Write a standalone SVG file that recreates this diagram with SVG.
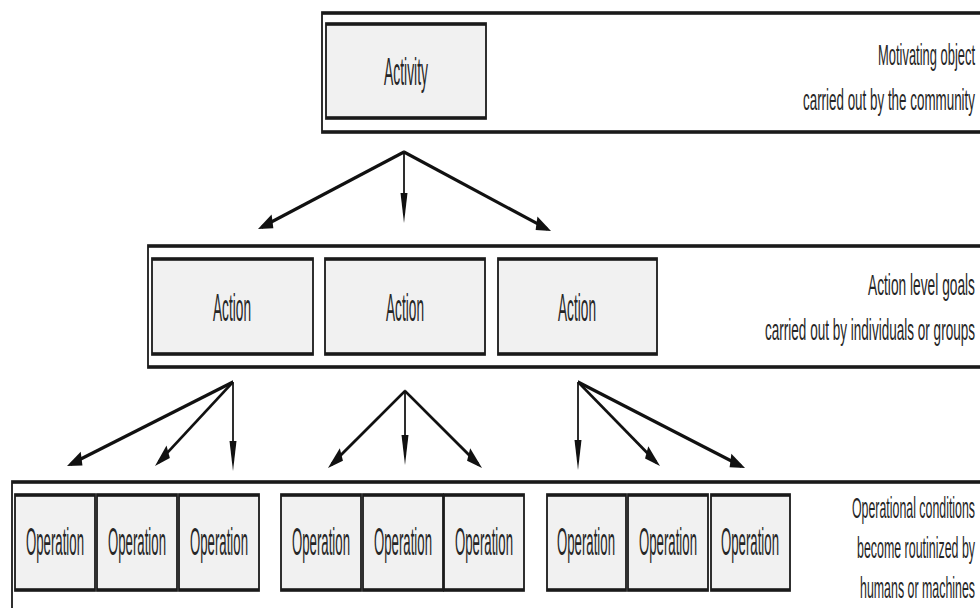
<svg xmlns="http://www.w3.org/2000/svg" width="980" height="608" viewBox="0 0 980 608">
  <style>
    .band { fill: #ffffff; stroke: #1a1a1a; stroke-width: 3.6; }
    .box { fill: #f1f1f1; stroke: #1a1a1a; stroke-width: 3.6; }
    .lbl { font-family: "Liberation Sans", Arial, sans-serif; font-size: 38px; fill: #262626; }
    .note { font-family: "Liberation Sans", Arial, sans-serif; font-size: 30px; fill: #262626; }
    .conn { stroke: #111111; stroke-width: 3.5; fill: none; marker-end: url(#ah); }
  </style>
  <defs>
    <!-- arrowhead, drawn in the half-width connector space -->
    <marker id="ah" markerUnits="userSpaceOnUse" orient="auto" refX="22" refY="0" markerWidth="34" markerHeight="20" viewBox="0 -10 34 20" overflow="visible">
      <path d="M0,-7 L30,0 L0,7 Z" fill="#111111"/>
    </marker>
  </defs>
  <rect width="980" height="608" fill="#ffffff"/>

  <!-- level bands (x doubled, squeezed to half width) -->
  <g id="band-activity"><rect class="band" transform="scale(0.5 1)" x="644" y="13" width="1356" height="119"/></g>
  <g id="band-action"><rect class="band" transform="scale(0.5 1)" x="296" y="246" width="1704" height="121"/></g>
  <g id="band-operation"><rect class="band" transform="scale(0.5 1)" x="24" y="482" width="2000" height="150"/></g>

  <!-- activity level -->
  <g id="activity">
    <rect class="box" transform="scale(0.5 1)" x="652" y="24" width="320" height="94"/>
    <text class="lbl" x="384" y="85" textLength="44" lengthAdjust="spacingAndGlyphs">Activity</text>
  </g>
  <g id="note-activity">
    <text class="note" x="878" y="65" textLength="97" lengthAdjust="spacingAndGlyphs">Motivating object</text>
    <text class="note" x="803" y="110" textLength="172" lengthAdjust="spacingAndGlyphs">carried out by the community</text>
  </g>

  <!-- action level -->
  <g id="action-1">
    <rect class="box" transform="scale(0.5 1)" x="304" y="259" width="322" height="95"/>
    <text class="lbl" x="213" y="321" textLength="38" lengthAdjust="spacingAndGlyphs">Action</text>
  </g>
  <g id="action-2">
    <rect class="box" transform="scale(0.5 1)" x="650" y="259" width="320" height="95"/>
    <text class="lbl" x="386" y="321" textLength="38" lengthAdjust="spacingAndGlyphs">Action</text>
  </g>
  <g id="action-3">
    <rect class="box" transform="scale(0.5 1)" x="996" y="259" width="318" height="95"/>
    <text class="lbl" x="558" y="321" textLength="38" lengthAdjust="spacingAndGlyphs">Action</text>
  </g>
  <g id="note-action">
    <text class="note" x="868" y="295" textLength="107" lengthAdjust="spacingAndGlyphs">Action level goals</text>
    <text class="note" x="765" y="340" textLength="210" lengthAdjust="spacingAndGlyphs">carried out by individuals or groups</text>
  </g>

  <!-- operation level -->
  <g id="operation-1-1">
    <rect class="box" transform="scale(0.5 1)" x="30" y="495" width="160" height="95"/>
    <text class="lbl" x="26" y="555" textLength="58" lengthAdjust="spacingAndGlyphs">Operation</text>
  </g>
  <g id="operation-1-2">
    <rect class="box" transform="scale(0.5 1)" x="194" y="495" width="160" height="95"/>
    <text class="lbl" x="108" y="555" textLength="58" lengthAdjust="spacingAndGlyphs">Operation</text>
  </g>
  <g id="operation-1-3">
    <rect class="box" transform="scale(0.5 1)" x="358" y="495" width="160" height="95"/>
    <text class="lbl" x="190" y="555" textLength="58" lengthAdjust="spacingAndGlyphs">Operation</text>
  </g>
  <g id="operation-2-1">
    <rect class="box" transform="scale(0.5 1)" x="562" y="495" width="160" height="95"/>
    <text class="lbl" x="292" y="555" textLength="58" lengthAdjust="spacingAndGlyphs">Operation</text>
  </g>
  <g id="operation-2-2">
    <rect class="box" transform="scale(0.5 1)" x="726" y="495" width="160" height="95"/>
    <text class="lbl" x="374" y="555" textLength="58" lengthAdjust="spacingAndGlyphs">Operation</text>
  </g>
  <g id="operation-2-3">
    <rect class="box" transform="scale(0.5 1)" x="888" y="495" width="160" height="95"/>
    <text class="lbl" x="455" y="555" textLength="58" lengthAdjust="spacingAndGlyphs">Operation</text>
  </g>
  <g id="operation-3-1">
    <rect class="box" transform="scale(0.5 1)" x="1094" y="495" width="158" height="95"/>
    <text class="lbl" x="557" y="555" textLength="58" lengthAdjust="spacingAndGlyphs">Operation</text>
  </g>
  <g id="operation-3-2">
    <rect class="box" transform="scale(0.5 1)" x="1256" y="495" width="160" height="95"/>
    <text class="lbl" x="639" y="555" textLength="58" lengthAdjust="spacingAndGlyphs">Operation</text>
  </g>
  <g id="operation-3-3">
    <rect class="box" transform="scale(0.5 1)" x="1422" y="495" width="158" height="95"/>
    <text class="lbl" x="721" y="555" textLength="58" lengthAdjust="spacingAndGlyphs">Operation</text>
  </g>
  <g id="note-operation">
    <text class="note" x="852" y="518" textLength="123" lengthAdjust="spacingAndGlyphs">Operational conditions</text>
    <text class="note" x="857" y="558" textLength="118" lengthAdjust="spacingAndGlyphs">become routinized by</text>
    <text class="note" x="860" y="598" textLength="115" lengthAdjust="spacingAndGlyphs">humans or machines</text>
  </g>

  <!-- connectors, drawn at double width and squeezed -->
  <g id="connectors" transform="scale(0.5 1)">
    <path class="conn" d="M808,152 L523.7,227"/>
    <path class="conn" d="M808,152 L808,215"/>
    <path class="conn" d="M808,152 L1094.3,228.9"/>

    <path class="conn" d="M466,382 L141.8,464"/>
    <path class="conn" d="M466,382 L317,462.2"/>
    <path class="conn" d="M466,382 L466,463"/>

    <path class="conn" d="M810,391 L663.1,464.4"/>
    <path class="conn" d="M810,391 L810,457"/>
    <path class="conn" d="M810,391 L956.9,464.4"/>

    <path class="conn" d="M1156,382 L1156,462"/>
    <path class="conn" d="M1156,382 L1312.9,462.4"/>
    <path class="conn" d="M1156,382 L1482.3,466"/>
  </g>
</svg>
